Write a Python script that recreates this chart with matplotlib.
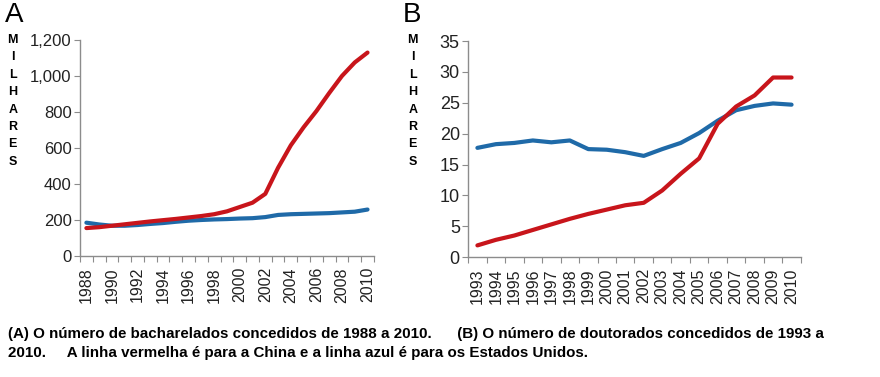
import numpy as np
import matplotlib.pyplot as plt

plt.rcParams['font.family'] = ['Liberation Sans', 'DejaVu Sans']

# (A) bacharelados, milhares
anos_a = list(range(1988, 2011))
china_a = [155, 160, 168, 176, 184, 192, 199, 206, 214, 222, 232, 248, 272, 296,
           345, 490, 615, 715, 805, 905, 1000, 1075, 1130]
eua_a = [185, 175, 168, 168, 172, 178, 183, 190, 196, 200, 203, 205, 208, 210,
         216, 228, 232, 234, 236, 238, 242, 246, 258]

# (B) doutorados, milhares
anos_b = list(range(1993, 2011))
china_b = [1.9, 2.8, 3.5, 4.4, 5.3, 6.2, 7.0, 7.7, 8.4, 8.8, 10.8, 13.5, 16.0,
           21.6, 24.4, 26.2, 29.1, 29.1]
eua_b = [17.7, 18.3, 18.5, 18.9, 18.6, 18.9, 17.5, 17.4, 17.0, 16.4, 17.5, 18.5,
         20.1, 22.1, 23.8, 24.5, 24.9, 24.7]

vermelho = '#c8151b'
azul = '#1f6aa8'
cinza = '#8c8c8c'

fig = plt.figure(figsize=(8.8, 3.77), dpi=100)
axA = fig.add_axes([0.0909, 0.321, 0.334, 0.573])
axB = fig.add_axes([0.532, 0.318, 0.378, 0.573])


def estilo(ax, anos, passo, tam_y):
    n = len(anos)
    x = np.arange(n)
    ax.set_xlim(-0.5, n - 0.5)
    for s in ['top', 'right']:
        ax.spines[s].set_visible(False)
    for s in ['left', 'bottom']:
        ax.spines[s].set_color(cinza)
        ax.spines[s].set_linewidth(1.0)
    ax.set_xticks(np.arange(n + 1) - 0.5)
    ax.set_xticklabels([])
    ax.tick_params(axis='x', which='major', length=4, color=cinza, direction='out')
    ax.set_xticks(x[::passo], minor=True)
    ax.set_xticklabels([str(a) for a in anos[::passo]], minor=True, rotation=90,
                       fontsize=11.5, color='#222222')
    ax.tick_params(axis='x', which='minor', length=0, pad=8)
    ax.tick_params(axis='y', length=4, color=cinza, labelsize=tam_y,
                   labelcolor='#222222', pad=2)
    return x


x = estilo(axA, anos_a, 2, 12)
axA.plot(x, eua_a, color=azul, lw=3, solid_capstyle='round', zorder=3)
axA.plot(x, china_a, color=vermelho, lw=3, solid_capstyle='round', zorder=3)
axA.set_ylim(0, 1200)
axA.set_yticks(range(0, 1201, 200))
axA.set_yticklabels([f'{v:,}' for v in range(0, 1201, 200)])

x = estilo(axB, anos_b, 1, 13)
axB.plot(x, eua_b, color=azul, lw=3, solid_capstyle='round', zorder=3)
axB.plot(x, china_b, color=vermelho, lw=3, solid_capstyle='round', zorder=3)
axB.set_ylim(0, 35)
axB.set_yticks(range(0, 36, 5))

# letras verticais e rótulos dos painéis
for xp, letra in [(0.006, 'A'), (0.458, 'B')]:
    fig.text(xp, 0.995, letra, fontsize=20, va='top', ha='left')
for xp in [0.0145, 0.469]:
    fig.text(xp, 0.91, '\n'.join('MILHARES'), fontsize=9, fontweight='bold',
             va='top', ha='center', linespacing=1.6)

legenda = ('(A) O número de bacharelados concedidos de 1988 a 2010.      '
           '(B) O número de doutorados concedidos de 1993 a\n'
           '2010.     A linha vermelha é para a China e a linha azul é para os Estados Unidos.')
fig.text(0.009, 0.133, legenda, fontsize=10.9, fontweight='bold', va='top', ha='left',
         linespacing=1.45)

fig.savefig('out.png', dpi=100)
